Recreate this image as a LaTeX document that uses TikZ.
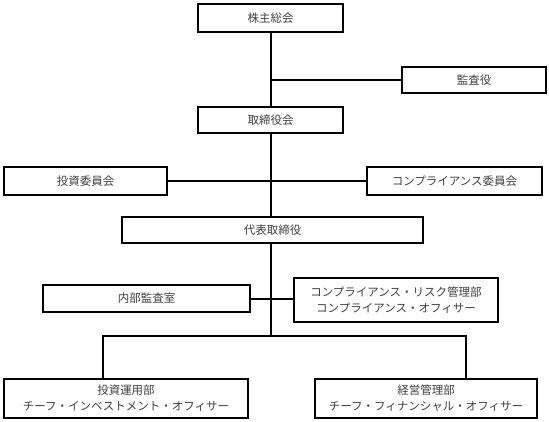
\documentclass[tikz,border=0pt]{standalone}
\usepackage{fontspec}
\setmainfont{Noto Sans CJK JP}
\begin{document}
\begin{tikzpicture}[x=1pt,y=-1pt,
  orgbox/.style={draw=black, line width=1.5pt, fill=white, inner sep=0pt, align=center,
    font=\fontsize{11.5pt}{16pt}\selectfont, text=black!75},
  link/.style={line width=2pt, black}]
\useasboundingbox (0,0) rectangle (549,422);
\node[orgbox, minimum width=145pt, minimum height=28pt] (gm) at (270.5,18) {株主総会};
\node[orgbox, minimum width=144pt, minimum height=26pt] (aud) at (474,80) {監査役};
\node[orgbox, minimum width=145pt, minimum height=26pt] (bod) at (270.5,120) {取締役会};
\node[orgbox, minimum width=163pt, minimum height=28pt] (inv) at (85.5,181) {投資委員会};
\node[orgbox, minimum width=175pt, minimum height=28pt] (cc) at (454.5,181) {コンプライアンス委員会};
\node[orgbox, minimum width=301pt, minimum height=26pt] (ceo) at (272.5,230) {代表取締役};
\node[orgbox, minimum width=207pt, minimum height=27pt] (ia) at (146.5,298.5) {内部監査室};
\node[orgbox, minimum width=204pt, minimum height=44pt] (cr) at (396,300) {コンプライアンス・リスク管理部\\コンプライアンス・オフィサー};
\node[orgbox, minimum width=244pt, minimum height=39pt] (iom) at (126,398.5) {投資運用部\\チーフ・インベストメント・オフィサー};
\node[orgbox, minimum width=222pt, minimum height=39pt] (fin) at (426,398.5) {経営管理部\\チーフ・フィナンシャル・オフィサー};
\coordinate (j1) at (271,80);
\coordinate (j2) at (271,181);
\coordinate (j3) at (271,299);
\coordinate (j4) at (271,336);
\draw[link] (gm.south -| j1) -- (bod.north -| j1);
\draw[link] (j1) -- (aud.west);
\draw[link] (bod.south -| j2) -- (ceo.north -| j2);
\draw[link] (inv.east) -- (cc.west);
\draw[link] (ceo.south -| j3) -- (j4);
\draw[link] (ia.east |- j3) -- (cr.west |- j3);
\draw[link] (iom.north -| 103,0) -- (103,336) -- (466,336) -- (fin.north -| 466,0);
\end{tikzpicture}
\end{document}
